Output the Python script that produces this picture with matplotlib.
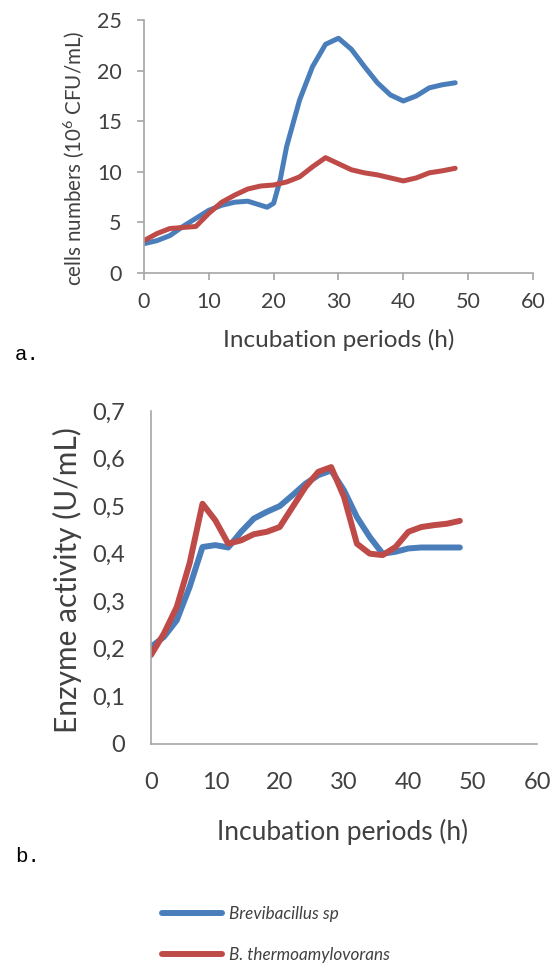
import matplotlib
matplotlib.use('Agg')
import matplotlib.pyplot as plt

plt.rcParams['font.family'] = ['Lato', 'DejaVu Sans']
plt.rcParams['mathtext.fontset'] = 'custom'
plt.rcParams['mathtext.rm'] = 'Lato'

# %% Data
hours = [0, 2, 4, 6, 8, 10, 12, 14, 16, 18, 20, 22, 24, 26, 28, 30, 32, 34, 36, 38, 40, 42, 44, 46, 48]

hours_a_blue = [0, 2, 4, 6, 8, 10, 12, 14, 16, 18, 19, 20, 21, 22, 24, 26, 28, 30, 32, 34, 36, 38, 40, 42, 44, 46, 48]
cells_brevi = [2.9, 3.2, 3.7, 4.6, 5.4, 6.2, 6.7, 7.0, 7.1, 6.7, 6.5, 6.9, 9.2, 12.5, 17.1, 20.4, 22.6, 23.2, 22.1,
               20.4, 18.8, 17.6, 17.0, 17.5, 18.3, 18.6, 18.8]
cells_thermo = [3.2, 3.9, 4.4, 4.5, 4.6, 5.9, 7.0, 7.7, 8.3, 8.6, 8.7, 9.0, 9.5, 10.5, 11.4, 10.8, 10.2, 9.9,
                9.7, 9.4, 9.1, 9.4, 9.9, 10.1, 10.35]

enz_brevi = [0.204, 0.225, 0.26, 0.33, 0.414, 0.418, 0.413, 0.446, 0.474, 0.488, 0.50, 0.523, 0.547, 0.565,
             0.575, 0.533, 0.477, 0.435, 0.40, 0.404, 0.411, 0.413, 0.413, 0.413, 0.413]
enz_thermo = [0.187, 0.232, 0.288, 0.38, 0.505, 0.47, 0.421, 0.428, 0.441, 0.446, 0.456, 0.498, 0.54, 0.572,
              0.582, 0.519, 0.421, 0.40, 0.397, 0.414, 0.446, 0.456, 0.46, 0.463, 0.469]

labels = ['Brevibacillus sp', 'B. thermoamylovorans']
blue = '#4a7ebb'
red = '#be4b48'
axis_grey = '#a6a6a6'
text_col = '#404040'

fig = plt.figure(figsize=(5.54, 9.72), dpi=100)

# %% Plot a - cell numbers
ax1 = fig.add_axes([0.2599, 0.7191, 0.7022, 0.2603])
ax1.plot(hours_a_blue, cells_brevi, color=blue, linewidth=3.6,
         solid_capstyle='round', solid_joinstyle='round')
ax1.plot(hours, cells_thermo, color=red, linewidth=3.6,
         solid_capstyle='round', solid_joinstyle='round')
ax1.set_xlim(0, 60)
ax1.set_ylim(0, 25)
ax1.set_xticks(range(0, 61, 10))
ax1.set_yticks(range(0, 26, 5))
for s in ['top', 'right']:
    ax1.spines[s].set_visible(False)
for s in ['left', 'bottom']:
    ax1.spines[s].set_color(axis_grey)
    ax1.spines[s].set_linewidth(1.2)
ax1.tick_params(axis='x', direction='out', length=5, width=1.2, color=axis_grey, pad=9,
                labelsize=15.5, labelcolor=text_col)
ax1.tick_params(axis='y', direction='out', length=5, width=1.2, color=axis_grey, pad=11,
                labelsize=15.5, labelcolor=text_col)
fig.text(74 / 554, 1 - 158 / 972, 'cells numbers (10$^{6}$ CFU/mL)', rotation=90,
         ha='center', va='center', fontsize=14.8, color=text_col)
fig.text(339 / 554, 1 - 340 / 972, 'Incubation periods (h)', ha='center', va='center',
         fontsize=17.5, color=text_col)
fig.text(15 / 554, 1 - 355 / 972, 'a.', ha='left', va='center', fontsize=15,
         family='Liberation Mono', color='black')

# %% Plot b - enzyme activity
ax2 = fig.add_axes([0.2726, 0.2346, 0.6968, 0.3426])
ax2.plot(hours, enz_brevi, color=blue, linewidth=4.3,
         solid_capstyle='round', solid_joinstyle='round', label=labels[0])
ax2.plot(hours, enz_thermo, color=red, linewidth=4.3,
         solid_capstyle='round', solid_joinstyle='round', label=labels[1])
ax2.set_xlim(0, 60)
ax2.set_ylim(0, 0.7)
ax2.set_xticks(range(0, 61, 10))
ax2.set_yticks([i / 10 for i in range(8)])
ax2.set_yticklabels(['0'] + ['0,%d' % i for i in range(1, 8)])
for s in ['top', 'right']:
    ax2.spines[s].set_visible(False)
for s in ['left', 'bottom']:
    ax2.spines[s].set_color(axis_grey)
    ax2.spines[s].set_linewidth(1.2)
ax2.tick_params(axis='x', length=0, pad=20, labelsize=17, labelcolor=text_col)
ax2.tick_params(axis='y', length=0, pad=18.5, labelsize=17, labelcolor=text_col)
fig.text(67 / 554, 1 - 580 / 972, 'Enzyme activity (U/mL)', rotation=90,
         ha='center', va='center', fontsize=21.5, color=text_col)
fig.text(343 / 554, 1 - 832 / 972, 'Incubation periods (h)', ha='center', va='center',
         fontsize=19, color=text_col)
fig.text(15 / 554, 1 - 856 / 972, 'b.', ha='left', va='center', fontsize=15,
         family='Liberation Mono', color='black')

# %% Legend
leg = fig.legend(*ax2.get_legend_handles_labels(), loc='upper left',
                 bbox_to_anchor=(162 / 554, 1 - 906 / 972), frameon=False,
                 borderpad=0, borderaxespad=0,
                 handlelength=3.5, labelspacing=1.45, handletextpad=0.4,
                 prop={'style': 'italic', 'size': 12.3})
for t in leg.get_texts():
    t.set_color(text_col)

plt.savefig('out.png', dpi=100)
plt.close(fig)
